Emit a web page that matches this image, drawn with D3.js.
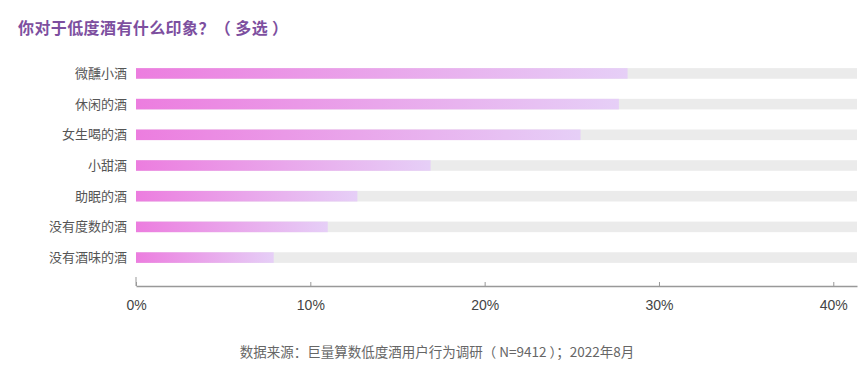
<!DOCTYPE html>
<html>
<head>
<meta charset="utf-8">
<script src="https://cdn.jsdelivr.net/npm/d3@7"></script>
<style>
  body { margin: 0; background: #fff; }
  svg text { font-family: "Noto Sans CJK SC", "Noto Sans", sans-serif; }
  .tick text { font-family: "Liberation Sans", Arial, sans-serif; }
</style>
</head>
<body>
<div id="chart"></div>
<script>
// answers and share of respondents
var categories = ["微醺小酒", "休闲的酒", "女生喝的酒", "小甜酒", "助眠的酒", "没有度数的酒", "没有酒味的酒"];
var values = [0.282, 0.277, 0.255, 0.169, 0.127, 0.110, 0.079];
var tickValues = [0, 0.1, 0.2, 0.3, 0.4];
var axisMax = 0.4136;

var title = "你对于低度酒有什么印象？（ 多选 ）";
var source = "数据来源：巨量算数低度酒用户行为调研（ N=9412 ）；2022年8月";

var width = 865, height = 381;
var svg = d3.select("#chart").append("svg")
    .attr("width", width)
    .attr("height", height);

// gradient for the bars
var grad = svg.append("defs").append("linearGradient")
    .attr("id", "barGrad")
    .attr("x1", "0%").attr("x2", "100%").attr("y1", "0%").attr("y2", "0%");
grad.append("stop").attr("offset", "0%").attr("stop-color", "#ec7ddf");
grad.append("stop").attr("offset", "100%").attr("stop-color", "#e6cff7");

var x = d3.scaleLinear()
    .domain([0, axisMax])
    .range([136, 857]);

var y = d3.scaleBand()
    .domain(categories)
    .range([58, 273])
    .paddingInner(0.655)
    .paddingOuter(0.33);

// title
svg.append("text")
    .attr("x", 18)
    .attr("y", 34)
    .attr("fill", "#7d4f9f")
    .attr("font-size", 16)
    .attr("font-weight", "bold")
    .attr("letter-spacing", 0.4)
    .text(title);

// grey track
svg.append("g").selectAll("rect")
    .data(categories)
    .enter()
    .append("rect")
    .attr("x", x(0))
    .attr("y", d => y(d))
    .attr("width", x(axisMax) - x(0))
    .attr("height", y.bandwidth())
    .attr("fill", "#ebebeb");

// value bars
svg.append("g").selectAll("rect")
    .data(values)
    .enter()
    .append("rect")
    .attr("x", x(0))
    .attr("y", (d, i) => y(categories[i]))
    .attr("width", d => x(d) - x(0))
    .attr("height", y.bandwidth())
    .attr("fill", "url(#barGrad)");

// category labels
svg.append("g").selectAll("text")
    .data(categories)
    .enter()
    .append("text")
    .attr("x", 127)
    .attr("y", d => y(d) + y.bandwidth() / 2)
    .attr("dy", "0.35em")
    .attr("text-anchor", "end")
    .attr("fill", "#555")
    .attr("font-size", 13)
    .text(d => d);

// x axis
var axis = svg.append("g")
    .attr("transform", "translate(0,286)")
    .call(d3.axisBottom(x)
        .tickValues(tickValues)
        .tickFormat(d3.format(".0%"))
        .tickSizeInner(-4)
        .tickSizeOuter(0)
        .tickPadding(14));
axis.select(".domain").attr("stroke", "#999").attr("stroke-width", 1.5);
axis.selectAll(".tick line").attr("stroke", "#999");
axis.selectAll(".tick text").attr("fill", "#444").attr("font-size", 14);

svg.append("line")
    .attr("x1", x(0)).attr("x2", x(0))
    .attr("y1", 277).attr("y2", 286)
    .attr("stroke", "#999");

// source
svg.append("text")
    .attr("x", 437)
    .attr("y", 357)
    .attr("text-anchor", "middle")
    .attr("fill", "#666")
    .attr("font-size", 13.5)
    .text(source);
</script>
</body>
</html>
